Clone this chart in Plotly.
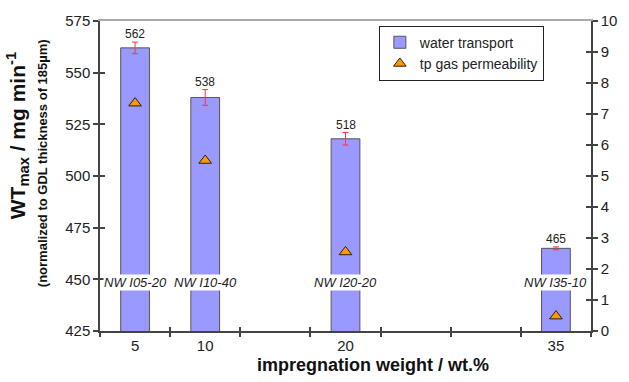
import plotly.graph_objects as go

# ---- data ----
impregnation = [5, 10, 20, 35]
sample_names = ["NW I05-20", "NW I10-40", "NW I20-20", "NW I35-10"]
water_transport = [562, 538, 518, 465]
water_err = [2.8, 3.8, 3.0, 0.7]
gas_permeability = [7.35, 5.5, 2.55, 0.48]
x_tick_labels = ["5", "10", "20", "35"]
category_bounds = [2.5, 7.5, 12.5, 17.5, 22.5, 27.5, 32.5, 37.5]

FONT = "Liberation Sans, Arial, sans-serif"
AX = "#444444"
XR = [2.5, 37.5]

fig = go.Figure()
fig.add_trace(go.Bar(
    x=impregnation, y=water_transport, width=2.05,
    name="water transport",
    marker=dict(color="#9999FF", line=dict(color="#555555", width=1)),
    error_y=dict(type="data", array=water_err, color="#FF3344", thickness=1, width=3),
    xaxis="x", yaxis="y",
))
fig.add_trace(go.Scatter(
    x=impregnation, y=gas_permeability, mode="markers",
    name="tp gas permeability",
    marker=dict(symbol="triangle-up", size=11, color="#FF9900",
                line=dict(color="#222222", width=1)),
    xaxis="x", yaxis="y2",
))
# empty helper traces so the overlay tick axes get drawn
for xa, ya in [("x2", "y3"), ("x3", "y4"), ("x4", "y3")]:
    fig.add_trace(go.Scatter(x=[None], y=[None], xaxis=xa, yaxis=ya,
                             showlegend=False, hoverinfo="skip", mode="markers"))

# value labels above bars
for xv, yv, e in zip(impregnation, water_transport, water_err):
    fig.add_annotation(x=xv, y=yv + e, xref="x", yref="y", text=str(yv),
                       showarrow=False, yanchor="bottom", yshift=-1,
                       font=dict(family=FONT, size=12, color="#222"))
# sample names
for xv, nm in zip(impregnation, sample_names):
    fig.add_annotation(x=xv, y=448.5, xref="x", yref="y", text="<i>" + nm + "</i>",
                       showarrow=False, bgcolor="white", borderpad=0,
                       font=dict(family=FONT, size=13, color="#222"))

# y titles
fig.add_annotation(x=-0.168, y=0.63, xref="paper", yref="paper", textangle=-90,
                   text="<b>WT<sub>max</sub> / mg min<sup>-1</sup></b>", showarrow=False,
                   xanchor="center", yanchor="middle",
                   font=dict(family=FONT, size=21, color="#111"))
fig.add_annotation(x=-0.117, y=0.54, xref="paper", yref="paper", textangle=-90,
                   text="<b>(normalized to GDL thickness of 185µm)</b>", showarrow=False,
                   xanchor="center", yanchor="middle",
                   font=dict(family=FONT, size=13, color="#111"))
# x title
fig.add_annotation(x=0.556, y=-0.11, xref="paper", yref="paper",
                   text="<b>impregnation weight / wt.%</b>", showarrow=False,
                   xanchor="center", yanchor="middle",
                   font=dict(family=FONT, size=18, color="#111"))

tickfont = dict(family=FONT, size=15, color="#222")
fig.update_layout(
    width=629, height=382,
    margin=dict(l=100, r=29, t=15, b=51),
    plot_bgcolor="white", paper_bgcolor="white",
    showlegend=True,
    legend=dict(x=0.904, y=0.985, xanchor="right", yanchor="top",
                bordercolor="#222", borderwidth=1, bgcolor="white",
                font=dict(family=FONT, size=14, color="#222"),
                tracegroupgap=0, itemwidth=30),
    xaxis=dict(range=XR, tickvals=impregnation, ticktext=x_tick_labels, ticks="",
               showline=True, linecolor=AX, linewidth=1.5, showgrid=False, zeroline=False,
               tickfont=tickfont),
    xaxis2=dict(range=XR, overlaying="x", anchor="y", side="bottom", tickvals=category_bounds,
                ticks="outside", ticklen=5, tickcolor=AX, tickwidth=1.5,
                showticklabels=False, showgrid=False, zeroline=False, showline=False),
    xaxis3=dict(range=XR, overlaying="x", anchor="y", side="bottom", tickvals=category_bounds,
                ticks="inside", ticklen=4, tickcolor=AX, tickwidth=1.5,
                showticklabels=False, showgrid=False, zeroline=False, showline=False),
    xaxis4=dict(range=XR, overlaying="x", anchor="y", side="top", ticks="",
                showticklabels=False, showgrid=False, zeroline=False,
                showline=True, linecolor="#AAAAAA", linewidth=1.5),
    yaxis=dict(range=[425, 575], dtick=25, tick0=425, ticks="outside", ticklen=5,
               tickcolor=AX, tickwidth=1.5, showline=True, linecolor=AX, linewidth=1.5,
               showgrid=False, zeroline=False, tickfont=tickfont),
    yaxis3=dict(range=[425, 575], dtick=25, tick0=425, overlaying="y", side="left", anchor="x",
                ticks="inside", ticklen=5, tickcolor=AX, tickwidth=1.5,
                showticklabels=False, showgrid=False, zeroline=False, showline=False),
    yaxis2=dict(range=[0, 10], dtick=1, overlaying="y", side="right", anchor="x",
                ticks="outside", ticklen=5, tickcolor=AX, tickwidth=1.5,
                showline=True, linecolor=AX, linewidth=1.5,
                showgrid=False, zeroline=False, tickfont=tickfont),
    yaxis4=dict(range=[0, 10], dtick=1, overlaying="y", side="right", anchor="x",
                ticks="inside", ticklen=5, tickcolor=AX, tickwidth=1.5,
                showticklabels=False, showgrid=False, zeroline=False, showline=False),
)

fig.write_html("out.html")
